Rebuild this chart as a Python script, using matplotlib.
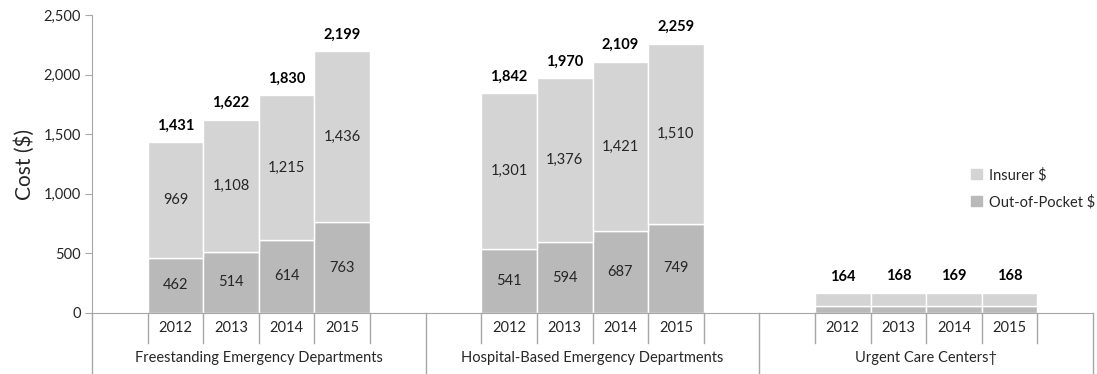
import matplotlib
matplotlib.use('Agg')
import matplotlib.pyplot as plt
from matplotlib.patches import Patch
from matplotlib.ticker import FuncFormatter

plt.rcParams['font.family'] = ['Lato', 'DejaVu Sans']

groups = ['Freestanding Emergency Departments',
          'Hospital-Based Emergency Departments',
          'Urgent Care Centers\u2020']
years = ['2012', '2013', '2014', '2015']

out_of_pocket = [[462, 514, 614, 763],
                 [541, 594, 687, 749],
                 [56, 57, 58, 58]]
insurer = [[969, 1108, 1215, 1436],
           [1301, 1376, 1421, 1510],
           [108, 111, 111, 110]]
totals = [[1431, 1622, 1830, 2199],
          [1842, 1970, 2109, 2259],
          [164, 168, 169, 168]]
show_inner = [True, True, False]

c_ins = '#d4d4d4'
c_oop = '#b9b9b9'
c_line = '#a6a6a6'
c_txt = '#262626'

fig = plt.figure(figsize=(10.97, 3.74), dpi=100)
ax = fig.add_axes([92 / 1097, 61 / 374, 1001 / 1097, 298 / 374])

for g in range(len(groups)):
    x0 = 6 * g + 1
    xs = [x0 + i + 0.5 for i in range(len(years))]
    ax.bar(xs, out_of_pocket[g], width=1.0, color=c_oop,
           edgecolor='white', linewidth=1, zorder=2)
    ax.bar(xs, insurer[g], width=1.0, bottom=out_of_pocket[g], color=c_ins,
           edgecolor='white', linewidth=1, zorder=2)
    for i, x in enumerate(xs):
        if show_inner[g]:
            ax.text(x, out_of_pocket[g][i] / 2, format(out_of_pocket[g][i], ','),
                    ha='center', va='center', fontsize=10.5, color=c_txt)
            ax.text(x, out_of_pocket[g][i] + insurer[g][i] / 2,
                    format(insurer[g][i], ','),
                    ha='center', va='center', fontsize=10.5, color=c_txt)
        ax.text(x, totals[g][i] + 80, format(totals[g][i], ','),
                ha='center', va='bottom', fontsize=10.5, fontweight='bold',
                color='black')
        # year labels under the axis
        ax.text(x, -0.052, years[i], transform=ax.get_xaxis_transform(),
                ha='center', va='center', fontsize=10.5, color=c_txt)
    ax.text(6 * g + 3, -0.152, groups[g], transform=ax.get_xaxis_transform(),
            ha='center', va='center', fontsize=10.5, color=c_txt)
    # year separators
    for k in range(len(years) + 1):
        ax.plot([x0 + k, x0 + k], [0, -0.1], transform=ax.get_xaxis_transform(),
                color=c_line, lw=1, clip_on=False)

# group separators
for k in range(len(groups) + 1):
    ax.plot([6 * k, 6 * k], [0, -0.21], transform=ax.get_xaxis_transform(),
            color=c_line, lw=1, clip_on=False)

ax.set_xlim(0, 18)
ax.set_ylim(0, 2500)
ax.set_yticks(range(0, 2501, 500))
ax.yaxis.set_major_formatter(FuncFormatter(lambda v, p: format(int(v), ',')))
ax.tick_params(axis='y', length=5, color=c_line, labelsize=10.5,
               labelcolor=c_txt, pad=3)
ax.set_xticks([])
for s in ['top', 'right']:
    ax.spines[s].set_visible(False)
ax.spines['left'].set_color(c_line)
ax.spines['bottom'].set_color(c_line)
ax.set_ylabel('Cost ($)', fontsize=15, color=c_txt, labelpad=6)

handles = [Patch(color=c_ins, label='Insurer $'),
           Patch(color=c_oop, label='Out-of-Pocket $')]
leg = ax.legend(handles=handles, loc='center right', bbox_to_anchor=(1.002, 0.418),
                frameon=False, fontsize=10.5, handlelength=0.7, handleheight=0.7,
                handletextpad=0.5, labelspacing=0.85, borderpad=0,
                borderaxespad=0)
for t in leg.get_texts():
    t.set_color(c_txt)

fig.savefig('out.png', dpi=100)
